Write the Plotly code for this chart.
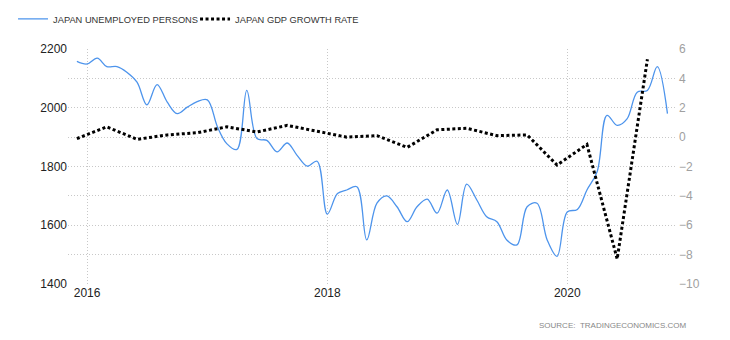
import pandas as pd
import plotly.graph_objects as go

# Monthly unemployed persons (thousands), Dec 2015 .. Nov 2020
unemp_start = "2015-12-01"
unemployed = [
    2158, 2149, 2169, 2140, 2140, 2121, 2087, 2010, 2079, 2019, 1980, 2002,
    2021, 2027, 1934, 1878, 1858, 2059, 1895, 1889, 1850, 1880, 1838, 1801,
    1818, 1638, 1708, 1720, 1731, 1550, 1675, 1700, 1663, 1612, 1663, 1689,
    1641, 1720, 1603, 1740, 1686, 1629, 1612, 1550, 1533, 1663, 1675, 1550,
    1494, 1645, 1654, 1720, 1782, 1974, 1940, 1962, 2053, 2059, 2140, 1980,
]
# Quarterly GDP growth rate (%), Q4 2015 .. Q3 2020
gdp_start = "2015-12-01"
gdp_growth = [
    -0.1, 0.7, -0.15, 0.15, 0.3, 0.7, 0.35, 0.8, 0.4, 0.0,
    0.1, -0.7, 0.5, 0.6, 0.1, 0.15, -1.9, -0.5, -8.3, 5.3,
]

unemp_dates = pd.date_range(unemp_start, periods=len(unemployed), freq="MS")
gdp_dates = pd.date_range(gdp_start, periods=len(gdp_growth), freq="3MS")

left_ticks = [1400, 1600, 1800, 2000, 2200]
right_ticks = [-10, -8, -6, -4, -2, 0, 2, 4, 6]
x_ticks = ["2016-01-01", "2018-01-01", "2020-01-01"]
x_labels = ["2016", "2018", "2020"]

FONT = "Liberation Sans, Arial, sans-serif"
GRID = "#c8c8c8"
GDASH = "1px,2px"

fig = go.Figure()
fig.add_trace(go.Scatter(
    x=unemp_dates, y=unemployed, name="JAPAN UNEMPLOYED PERSONS",
    mode="lines", line=dict(color="#4d94ec", width=1.3, shape="spline", smoothing=1.0),
    yaxis="y",
))
fig.add_trace(go.Scatter(
    x=gdp_dates, y=gdp_growth, name="JAPAN GDP GROWTH RATE",
    mode="lines", line=dict(color="#000000", width=3, dash="3px,2.5px"),
    yaxis="y2",
))

fig.update_layout(
    width=730, height=340,
    margin=dict(l=68, r=54, t=49, b=56, autoexpand=False),
    paper_bgcolor="white", plot_bgcolor="white",
    font=dict(family=FONT, size=12, color="#222"),
    showlegend=True,
    legend=dict(
        orientation="h", x=-0.0904, xanchor="left", y=1.128, yanchor="middle",
        font=dict(size=9.3, color="#333", family=FONT),
        itemwidth=30, entrywidth=137, bgcolor="rgba(0,0,0,0)",
        tracegroupgap=0,
    ),
    xaxis=dict(
        type="date",
        range=["2015-11-04", "2020-11-27"],
        tickvals=x_ticks, ticktext=x_labels,
        showgrid=True, gridcolor=GRID, griddash=GDASH, gridwidth=1,
        showline=False, zeroline=False, ticks="",
        tickfont=dict(size=12, color="#222"),
    ),
    yaxis=dict(
        range=[1400, 2200], tickvals=left_ticks,
        showgrid=True, gridcolor=GRID, griddash=GDASH, gridwidth=1,
        minor=dict(dtick=100, showgrid=True, gridcolor=GRID, griddash=GDASH, gridwidth=1),
        zeroline=False, showline=False, ticks="",
        tickfont=dict(size=12, color="#222"), ticklabelstandoff=0,
    ),
    yaxis2=dict(
        range=[-10, 6], tickvals=right_ticks, overlaying="y", side="right",
        showgrid=False, zeroline=False, showline=False, ticks="",
        tickfont=dict(size=12, color="#a0a0a0"), ticklabelstandoff=2,
    ),
    annotations=[dict(
        text="SOURCE:&nbsp;&nbsp;TRADINGECONOMICS.COM", xref="paper", yref="paper",
        x=1.0197, y=-0.1745, xanchor="right", yanchor="middle", showarrow=False,
        font=dict(size=8, color="#888", family=FONT),
    )],
)

fig.write_html("out.html")
